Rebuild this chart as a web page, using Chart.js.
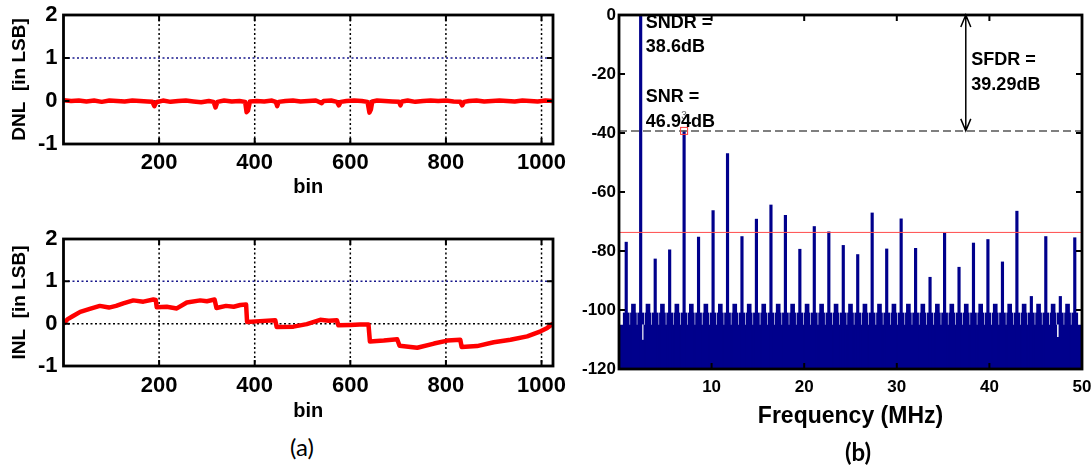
<!DOCTYPE html>
<html lang="en">
  <head>
    <meta charset="UTF-8">
    <title>ADC linearity and output spectrum</title>
    <script src="https://cdn.jsdelivr.net/npm/chart.js"></script>
    <style>
      body { margin: 0; background: #fff; }
      #wrap { position: relative; width: 1091px; height: 467px; }
      canvas { position: absolute; }
      .lbl { position: absolute; width: 60px; text-align: center; font-family: Lato, sans-serif; font-size: 24px; line-height: 26px; color: #000; }
    </style>
  </head>
  <body>
    <div id="wrap">
      <canvas id="dnl" width="575" height="205" style="left:0;top:0"></canvas>
      <canvas id="inl" width="575" height="205" style="left:0;top:224px"></canvas>
      <canvas id="fft" width="516" height="441" style="left:575px;top:0"></canvas>
      <div class="lbl" style="left:272px;top:434px">(a)</div>
      <div class="lbl" style="left:828px;top:439px;font-weight:bold">(b)</div>
    </div>

    <script>
      Chart.defaults.font.family = "'Liberation Sans', Arial, sans-serif"
      Chart.defaults.color = '#000'

      // ---- static linearity, 10-bit code bins ----
      const binTicks = [200, 400, 600, 800, 1000]
      const lsbTicks = [-1, 0, 1, 2]

      const dnlBins = [0, 16, 32, 48, 64, 80, 96, 112, 128, 144, 160, 176, 186, 190, 194, 208, 224, 240, 256, 272, 288, 304,
        314, 318, 322, 336, 352, 368, 380, 383, 386, 390, 404, 420, 436, 444, 447, 450, 464, 480, 496, 512, 528, 540, 544,
        560, 572, 576, 580, 592, 608, 624, 636, 640, 643, 646, 656, 672, 688, 702, 705, 708, 720, 736, 752, 768, 784, 800,
        816, 830, 834, 838, 848, 864, 880, 896, 912, 928, 944, 960, 976, 992, 1008, 1024]
      const dnlVals = [0.02, 0, 0.01, -0.01, 0.01, -0.02, 0.01, 0, -0.01, 0.01, 0, -0.01, -0.02, -0.12, -0.03, 0.01, -0.02, 0, 0.01, -0.01, -0.03, 0,
        -0.02, -0.15, -0.02, 0.01, -0.01, 0, -0.02, -0.26, -0.22, -0.01, 0, -0.01, 0.01, -0.02, -0.12, -0.02, 0, 0.01, -0.01, 0, 0.01, -0.05, 0,
        0.01, -0.02, -0.1, -0.02, 0, 0.01, 0, -0.02, -0.27, -0.2, -0.01, 0.01, 0, -0.01, -0.02, -0.1, -0.01, 0.01, -0.02, 0, 0.01, 0, 0.01,
        -0.01, -0.02, -0.1, -0.02, 0, 0.01, -0.01, 0, 0.01, 0, -0.01, 0.01, 0, -0.01, 0.01, 0]

      const inlBins = [0, 8, 20, 35, 55, 76, 95, 110, 125, 146, 167, 188, 193, 195, 216, 237, 258, 286, 300, 316, 320, 340, 356, 370,
        382, 384, 411, 443, 446, 481, 509, 537, 555, 572, 575, 600, 620, 638, 641, 670, 698, 703, 740, 775, 803, 830, 833, 865,
        900, 935, 970, 998, 1012, 1024]
      const inlVals = [0, 0.1, 0.18, 0.28, 0.35, 0.42, 0.38, 0.42, 0.48, 0.55, 0.52, 0.57, 0.56, 0.39, 0.4, 0.36, 0.5, 0.55, 0.53, 0.57, 0.37, 0.42, 0.4, 0.44,
        0.45, 0.04, 0.06, 0.08, -0.08, -0.07, -0.01, 0.09, 0.07, 0.08, -0.04, -0.03, -0.02, -0.02, -0.42, -0.4, -0.37, -0.52, -0.57, -0.47, -0.4, -0.38, -0.55, -0.53,
        -0.44, -0.38, -0.3, -0.18, -0.1, 0]

      // ---- output spectrum (MHz / dB) ----
      const freqTicks = [10, 20, 30, 40, 50]
      const dbTicks = [0, -20, -40, -60, -80, -100, -120]

      const spurFreq = [0.78, 2.34, 3.91, 5.47, 7.03, 8.59, 10.16, 11.72, 13.28, 14.84, 16.41, 17.97, 19.53, 21.09, 22.66, 24.22,
        25.78, 27.34, 28.91, 30.47, 32.03, 33.59, 35.16, 36.72, 38.28, 39.84, 41.41, 42.97, 44.53, 46.09, 47.66, 49.22]
      const spurDb = [-77.0, 0, -82.7, -79.6, -39.29, -75.3, -66.3, -47.0, -75.1, -69.2, -64.4, -67.9, -79.4, -71.7, -73.5, -78.1,
        -81.2, -67.1, -79.3, -69.1, -79.1, -88.9, -73.9, -85.5, -77.3, -76.1, -83.7, -66.5, -95.4, -75.1, -95.4, -75.5]

      const combFreq = [1.56, 3.13, 4.69, 6.25, 7.81, 9.38, 10.94, 12.5, 14.06, 15.63, 17.19, 18.75, 20.31, 21.88, 23.44, 25.0,
        26.56, 28.13, 29.69, 31.25, 32.81, 34.38, 35.94, 37.5, 39.06, 40.63, 42.19, 43.75, 45.31, 46.88, 48.44]
      const combDb = [-98, -98, -98, -98, -98, -98, -98, -98, -98, -98, -98, -98, -98, -98, -98, -98,
        -98, -98, -98, -98, -98, -98, -98, -98, -98, -98, -98, -98, -98, -98, -98]

      const shoulderDb = -101
      const floorDb = -105
      const notchFreq = [2.55, 47.4]
      const notchDb = [-110, -109]

      const sfdrDb = -39.29
      const meanSpurDb = -73.7
      const arrowFreq = 37.45

      const navy = '#00008c'
      const xy = (xs, ys) => xs.map((v, i) => ({x: v, y: ys[i]}))
      const tickList = vals => scale => { scale.ticks = vals.map(v => ({value: v})) }

      // box + inward tick marks, matlab style
      const frame = {
        id: 'frame',
        afterDraw(chart) {
          const {ctx, chartArea: a, scales: {x, y}} = chart
          const len = 6
          ctx.save()
          ctx.strokeStyle = '#000'
          ctx.lineWidth = 2
          ctx.setLineDash([])
          ctx.beginPath()
          x.ticks.forEach(t => {
            const px = x.getPixelForValue(t.value)
            ctx.moveTo(px, a.top); ctx.lineTo(px, a.top + len)
            ctx.moveTo(px, a.bottom); ctx.lineTo(px, a.bottom - len)
          })
          y.ticks.forEach(t => {
            const py = y.getPixelForValue(t.value)
            ctx.moveTo(a.left, py); ctx.lineTo(a.left + len, py)
            ctx.moveTo(a.right, py); ctx.lineTo(a.right - len, py)
          })
          ctx.stroke()
          ctx.lineWidth = 2.8
          ctx.strokeRect(a.left, a.top, a.right - a.left, a.bottom - a.top)
          ctx.restore()
        }
      }

      // dotted grid, the 1 LSB line in blue
      const dotGrid = {
        id: 'dotGrid',
        beforeDatasetsDraw(chart) {
          const {ctx, chartArea: a, scales: {x, y}} = chart
          ctx.save()
          ctx.lineWidth = 1.5
          ctx.setLineDash([2, 2.5])
          ctx.strokeStyle = '#000'
          ctx.beginPath()
          binTicks.forEach(v => {
            const px = x.getPixelForValue(v)
            ctx.moveTo(px, a.top); ctx.lineTo(px, a.bottom)
          })
          const p0 = y.getPixelForValue(0)
          ctx.moveTo(a.left, p0); ctx.lineTo(a.right, p0)
          ctx.stroke()
          ctx.strokeStyle = '#17178c'
          ctx.beginPath()
          const p1 = y.getPixelForValue(1)
          ctx.moveTo(a.left, p1); ctx.lineTo(a.right, p1)
          ctx.stroke()
          ctx.restore()
        }
      }

      // fixed box sizes so the plot areas line up between the panels
      const fitX = h => s => { s.height = h; s.paddingLeft = 0; s.paddingRight = 0 }
      const fitY = w => s => { s.width = w; s.paddingTop = 0; s.paddingBottom = 0 }

      function linearity(id, bins, vals, title, xh, tickPad) {
        return new Chart(document.getElementById(id), {
          type: 'line',
          data: {
            datasets: [{
              data: xy(bins, vals),
              borderColor: '#ff0000',
              borderWidth: 4.5,
              borderJoinStyle: 'round',
              pointRadius: 0,
              tension: 0
            }]
          },
          options: {
            responsive: false,
            animation: false,
            layout: {padding: {top: 15, right: 22, left: 0, bottom: 0}},
            plugins: {legend: {display: false}, tooltip: {enabled: false}},
            scales: {
              x: {
                type: 'linear', min: 0, max: 1024,
                afterBuildTicks: tickList(binTicks),
                afterFit: fitX(xh),
                grid: {display: false, drawTicks: false}, border: {display: false},
                ticks: {callback: v => v, autoSkip: false, maxRotation: 0, padding: tickPad, font: {size: 22, weight: 'bold'}},
                title: {display: true, text: 'bin', font: {size: 20, weight: 'bold'}, padding: {top: 0, bottom: 6}}
              },
              y: {
                min: -1, max: 2,
                afterBuildTicks: tickList(lsbTicks),
                afterFit: fitY(63.5),
                grid: {display: false, drawTicks: false}, border: {display: false},
                ticks: {callback: v => v, padding: 6, font: {size: 22, weight: 'bold'}},
                title: {display: true, text: title, font: {size: 19, weight: 'bold'}, padding: {top: 8.6, bottom: 0}}
              }
            }
          },
          plugins: [dotGrid, frame]
        })
      }

      linearity('dnl', dnlBins, dnlVals, 'DNL  [in LSB]', 61, 6)
      linearity('inl', inlBins, inlVals, 'INL  [in LSB]', 63, 7)

      // SFDR / SNR annotations on the spectrum
      const fftNotes = {
        id: 'fftNotes',
        afterDatasetsDraw(chart) {
          const {ctx, chartArea: a, scales: {x, y}} = chart
          ctx.save()
          ctx.strokeStyle = '#ff4b4b'
          ctx.lineWidth = 1
          let py = y.getPixelForValue(meanSpurDb)
          ctx.beginPath(); ctx.moveTo(a.left, py); ctx.lineTo(a.right, py); ctx.stroke()

          ctx.strokeStyle = '#555'
          ctx.lineWidth = 1.5
          ctx.setLineDash([8, 4])
          py = y.getPixelForValue(sfdrDb)
          ctx.beginPath(); ctx.moveTo(a.left, py); ctx.lineTo(a.right, py); ctx.stroke()
          ctx.setLineDash([])

          const ax = x.getPixelForValue(arrowFreq), top = y.getPixelForValue(0)
          ctx.strokeStyle = '#000'
          ctx.beginPath()
          ctx.moveTo(ax, top); ctx.lineTo(ax, py)
          ctx.moveTo(ax - 5, top + 12); ctx.lineTo(ax, top); ctx.lineTo(ax + 5, top + 12)
          ctx.moveTo(ax - 5, py - 12); ctx.lineTo(ax, py); ctx.lineTo(ax + 5, py - 12)
          ctx.stroke()

          // 3rd harmonic marker
          const mx = x.getPixelForValue(spurFreq[4]), my = y.getPixelForValue(spurDb[4])
          ctx.strokeStyle = '#ff3b3b'
          ctx.lineWidth = 1
          ctx.strokeRect(mx - 3.5, my - 3.5, 7, 7)
          ctx.fillStyle = '#666'
          ctx.font = "10px 'Liberation Sans', Arial, sans-serif"
          ctx.textAlign = 'center'
          ctx.textBaseline = 'middle'
          ctx.fillText('3', mx, my - 15)

          ctx.fillStyle = '#000'
          ctx.font = "bold 18px 'Liberation Sans', Arial, sans-serif"
          ctx.textAlign = 'left'
          const notes = [
            ['SNDR =', 2.9, -2.7], ['38.6dB', 2.9, -10.7],
            ['SNR =', 2.9, -27.7], ['46.94dB', 2.9, -36.2],
            ['SFDR =', 38.05, -15.3], ['39.29dB', 38.05, -23.7]
          ]
          notes.forEach(([t, f, db]) => ctx.fillText(t, x.getPixelForValue(f), y.getPixelForValue(db)))
          ctx.restore()
        }
      }

      new Chart(document.getElementById('fft'), {
        type: 'bar',
        data: {
          datasets: [
            {data: xy(spurFreq, spurDb), base: -120, backgroundColor: navy, barThickness: 2.5, order: 0},
            {data: xy(notchFreq, notchFreq.map((f, i) => [notchDb[i], floorDb])), backgroundColor: '#fff', barThickness: 1, order: 1},
            {data: xy(combFreq, combDb), base: -120, backgroundColor: navy, barThickness: 4, order: 2},
            {data: spurFreq.concat(combFreq).map(f => ({x: f, y: shoulderDb})), base: -120, backgroundColor: navy, barThickness: 6, order: 3},
            {type: 'line', data: [{x: 0, y: floorDb}, {x: 50, y: floorDb}], borderWidth: 0, pointRadius: 0,
              fill: {value: -120}, backgroundColor: navy, order: 4}
          ]
        },
        options: {
          responsive: false,
          animation: false,
          layout: {padding: {top: 15, right: 9, left: 0, bottom: 0}},
          plugins: {legend: {display: false}, tooltip: {enabled: false}},
          datasets: {bar: {grouped: false, borderWidth: 0}},
          scales: {
            x: {
              type: 'linear', min: 0, max: 50, offset: false,
              afterBuildTicks: tickList(freqTicks),
              afterFit: fitX(72),
              grid: {display: false, drawTicks: false, offset: false}, border: {display: false},
              ticks: {callback: v => v, autoSkip: false, maxRotation: 0, padding: 8, font: {size: 17, weight: 'bold'}},
              title: {display: true, text: 'Frequency (MHz)', font: {size: 23, weight: 'bold'}, padding: {top: 0, bottom: 11}}
            },
            y: {
              min: -120, max: 0,
              afterBuildTicks: tickList(dbTicks),
              afterFit: fitY(44),
              grid: {display: false, drawTicks: false}, border: {display: false},
              ticks: {callback: v => v, padding: 3, font: {size: 17, weight: 'bold'}}
            }
          }
        },
        plugins: [fftNotes, frame]
      })
    </script>
  </body>
</html>
